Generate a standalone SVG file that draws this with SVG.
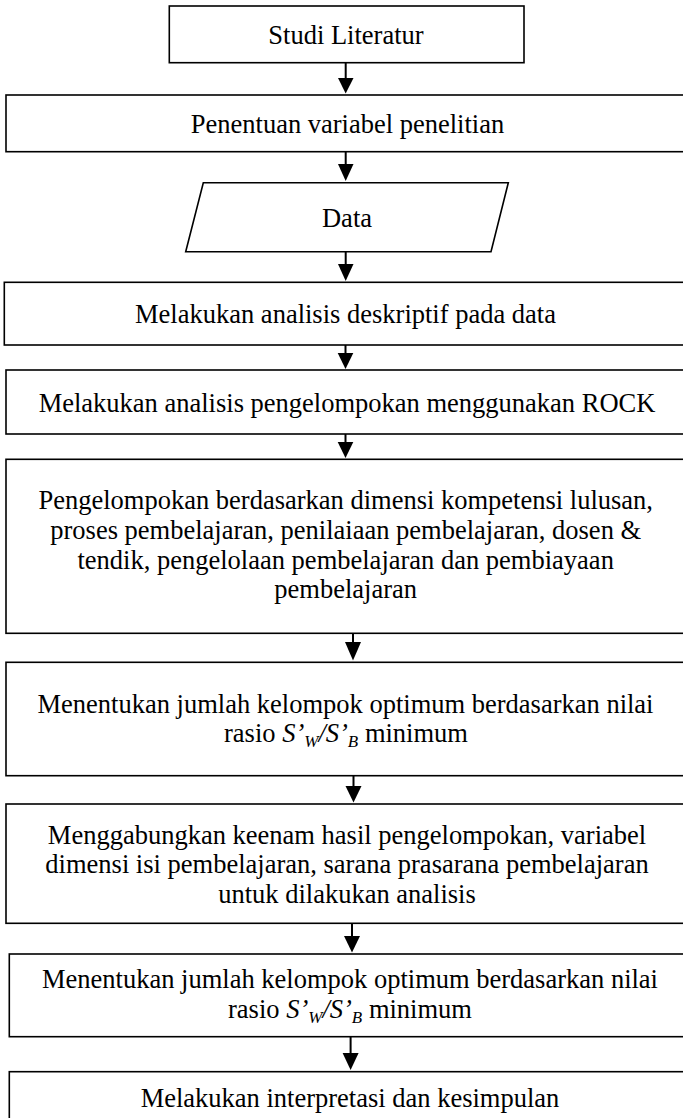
<svg xmlns="http://www.w3.org/2000/svg" width="683" height="1118" viewBox="0 0 683 1118">
<style>
.box{fill:#fff;stroke:#000;stroke-width:1.6}
.t{font-family:"Liberation Serif","Times New Roman",serif;font-size:26.5px;fill:#000;text-anchor:middle}
.it{font-style:italic}
.sub{font-style:italic;font-size:17px}
.ln{stroke:#000;stroke-width:2;fill:none}
.ah{fill:#000}
</style>
<rect width="683" height="1118" fill="#fff"/>
<g id="connectors">
<line class="ln" x1="345.7" y1="62.7" x2="345.7" y2="80"/><polygon class="ah" points="338,78 353.5,78 345.7,93.5"/>
<line class="ln" x1="345.7" y1="151.7" x2="345.7" y2="166"/><polygon class="ah" points="338,164 353.5,164 345.7,181"/>
<line class="ln" x1="345.7" y1="251.7" x2="345.7" y2="266"/><polygon class="ah" points="338,264 353.5,264 345.7,281"/>
<line class="ln" x1="345.5" y1="345" x2="345.5" y2="355"/><polygon class="ah" points="337.7,353 353.3,353 345.5,369"/>
<line class="ln" x1="345.5" y1="434" x2="345.5" y2="444"/><polygon class="ah" points="337.7,442 353.3,442 345.5,458"/>
<line class="ln" x1="353" y1="633.3" x2="353" y2="644"/><polygon class="ah" points="345,642 361,642 353,660.5"/>
<line class="ln" x1="353.5" y1="775.7" x2="353.5" y2="788"/><polygon class="ah" points="345.5,786 361.5,786 353.5,802.5"/>
<line class="ln" x1="352" y1="923.3" x2="352" y2="938"/><polygon class="ah" points="344,936 360,936 352,952.5"/>
<line class="ln" x1="350.6" y1="1036.7" x2="350.6" y2="1055"/><polygon class="ah" points="342.6,1053 358.6,1053 350.6,1070"/>
</g>
<g id="n1"><rect class="box" x="169.3" y="6" width="354.7" height="56.7"/><text class="t" x="346" y="44.3">Studi Literatur</text></g>
<g id="n2"><rect class="box" x="6" y="95" width="690" height="56.7"/><text class="t" x="347.5" y="132.7">Penentuan variabel penelitian</text></g>
<g id="n3"><polygon class="box" points="203.3,182.7 508.3,182.7 491,251.7 185.7,251.7"/><text class="t" x="347" y="227.3">Data</text></g>
<g id="n4"><rect class="box" x="4.3" y="282.3" width="690" height="62.7"/><text class="t" x="345.5" y="323.3">Melakukan analisis deskriptif pada data</text></g>
<g id="n5"><rect class="box" x="6" y="370" width="690" height="64"/><text class="t" x="347" y="411.7">Melakukan analisis pengelompokan menggunakan ROCK</text></g>
<g id="n6"><rect class="box" x="6" y="459.3" width="690" height="174"/>
<text class="t" x="345.7" y="509.3">Pengelompokan berdasarkan dimensi kompetensi lulusan,</text>
<text class="t" x="345.7" y="539">proses pembelajaran, penilaiaan pembelajaran, dosen &amp;</text>
<text class="t" x="345.7" y="568.5">tendik, pengelolaan pembelajaran dan pembiayaan</text>
<text class="t" x="345.7" y="598">pembelajaran</text></g>
<g id="n7"><rect class="box" x="6" y="662.3" width="690" height="113.4"/>
<text class="t" x="345.5" y="712.7">Menentukan jumlah kelompok optimum berdasarkan nilai</text>
<text class="t" x="346" y="742.3">rasio <tspan class="it">S’</tspan><tspan class="sub" dy="5">W</tspan><tspan class="it" dy="-5">/S’</tspan><tspan class="sub" dy="5">B</tspan><tspan dy="-5"> minimum</tspan></text></g>
<g id="n8"><rect class="box" x="6" y="804" width="690" height="119.3"/>
<text class="t" x="347" y="843.7">Menggabungkan keenam hasil pengelompokan, variabel</text>
<text class="t" x="347" y="873.3">dimensi isi pembelajaran, sarana prasarana pembelajaran</text>
<text class="t" x="347" y="903">untuk dilakukan analisis</text></g>
<g id="n9"><rect class="box" x="9.3" y="954" width="690" height="82.7"/>
<text class="t" x="350" y="988.3">Menentukan jumlah kelompok optimum berdasarkan nilai</text>
<text class="t" x="350" y="1018">rasio <tspan class="it">S’</tspan><tspan class="sub" dy="5">W</tspan><tspan class="it" dy="-5">/S’</tspan><tspan class="sub" dy="5">B</tspan><tspan dy="-5"> minimum</tspan></text></g>
<g id="n10"><rect class="box" x="9.3" y="1071.7" width="690" height="60"/>
<text class="t" x="350" y="1107.3">Melakukan interpretasi dan kesimpulan</text></g>
</svg>
